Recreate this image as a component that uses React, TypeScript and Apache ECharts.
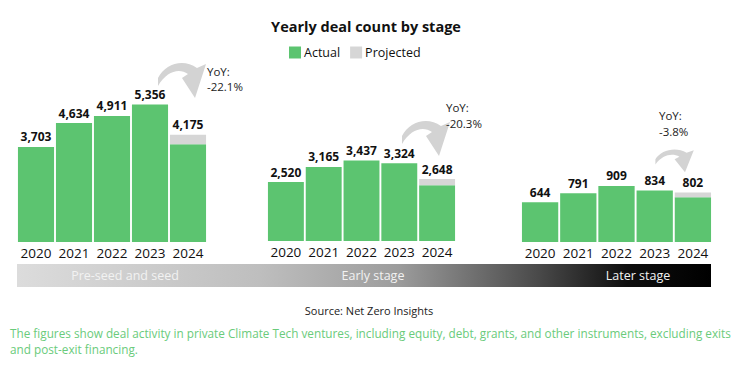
import React, { useEffect, useRef } from "react";
import * as echarts from "echarts";

const years = ["2020", "2021", "2022", "2023", "2024"];
const preSeedActual = [3703, 4634, 4911, 5356, 3810];
const preSeedTotal = [3703, 4634, 4911, 5356, 4175];
const earlyActual = [2520, 3165, 3437, 3324, 2380];
const earlyTotal = [2520, 3165, 3437, 3324, 2648];
const laterActual = [644, 791, 909, 834, 724];
const laterTotal = [644, 791, 909, 834, 802];
const yoyLabels = ["-22.1%", "-20.3%", "-3.8%"];
const stageNames = ["Pre-seed and seed", "Early stage", "Later stage"];

const GREEN = "#5cc470";
const GREY = "#d6d6d6";
const FONT = "'Open Sans', sans-serif";

const ARROW_D =
  "M3 27 L3 19 C10 5 28 -1 42 9 L51 5 L40 39 L27 19 L33 15 C24 9 12 12 3 27 Z";

let registered = false;

export default function App() {
  const ref = useRef<HTMLDivElement>(null);
  useEffect(() => {
    if (!registered) {
      echarts.graphic.registerShape("curvedArrow", echarts.graphic.extendPath(ARROW_D, {}) as any);
      registered = true;
    }
    const chart = echarts.init(ref.current!, null, { renderer: "svg" });
    const groups = [
      { actual: preSeedActual, total: preSeedTotal, left: 17, width: 190, top: 88, bottom: 124, max: 6000 },
      { actual: earlyActual, total: earlyTotal, left: 267, width: 189, top: 147.4, bottom: 125, max: 4000 },
      { actual: laterActual, total: laterTotal, left: 521, width: 191, top: 180.3, bottom: 124, max: 1000 },
    ];
    const grid = groups.map((g) => ({
      left: g.left,
      width: g.width,
      top: g.top,
      bottom: g.bottom,
      containLabel: false,
    }));
    const xAxis = groups.map((_, i) => ({
      type: "category" as const,
      gridIndex: i,
      data: years,
      axisLine: { show: false },
      axisTick: { show: false },
      axisLabel: { interval: 0, color: "#111", fontSize: 13.5, fontFamily: FONT, fontWeight: 500, margin: 4 },
    }));
    const yAxis = groups.map((g, i) => ({
      type: "value" as const,
      gridIndex: i,
      min: 0,
      max: g.max,
      show: false,
      splitLine: { show: false },
    }));
    const series: any[] = [];
    groups.forEach((g, i) => {
      series.push({
        type: "bar",
        name: "Actual",
        xAxisIndex: i,
        yAxisIndex: i,
        stack: "s" + i,
        data: g.actual,
        barCategoryGap: "5%",
        itemStyle: { color: GREEN },
      });
      series.push({
        type: "bar",
        name: "Projected",
        xAxisIndex: i,
        yAxisIndex: i,
        stack: "s" + i,
        data: g.total.map((t, k) => t - g.actual[k]),
        barCategoryGap: "5%",
        itemStyle: { color: GREY },
        label: {
          show: true,
          position: "top",
          distance: 4,
          color: "#111",
          fontSize: 12,
          fontWeight: "bold",
          fontFamily: FONT,
          formatter: (p: any) => g.total[p.dataIndex].toLocaleString("en-US"),
        },
      });
    });

    const arrows = [
      { x: 155, y: 59, sx: 1, sy: 1 },
      { x: 399, y: 117, sx: 1, sy: 1 },
      { x: 653, y: 147, sx: 0.8, sy: 0.65 },
    ];
    const yoyPos = [
      { x: 207, y1: 71, y2: 86 },
      { x: 446, y1: 107, y2: 123 },
      { x: 659, y1: 115, y2: 131 },
    ];
    const stagePos = [125, 373, 638];
    const graphic: any[] = [];
    arrows.forEach((a) => {
      graphic.push({
        type: "curvedArrow",
        x: a.x,
        y: a.y,
        scaleX: a.sx,
        scaleY: a.sy,
        style: { fill: "#d3d3d3" },
      });
    });
    yoyPos.forEach((p, i) => {
      graphic.push({
        type: "text",
        x: p.x,
        y: p.y1,
        style: { text: "YoY:", fill: "#222", fontSize: 11.5, lineHeight: 13, fontFamily: FONT, textVerticalAlign: "middle" },
      });
      graphic.push({
        type: "text",
        x: p.x,
        y: p.y2,
        style: { text: yoyLabels[i], fill: "#222", fontSize: 11.5, lineHeight: 13, fontFamily: FONT, textVerticalAlign: "middle" },
      });
    });
    graphic.push({
      type: "rect",
      shape: { x: 17, y: 264, width: 694, height: 23 },
      style: {
        fill: new echarts.graphic.LinearGradient(0, 0, 1, 0, [
          { offset: 0, color: "#dcdcdc" },
          { offset: 0.35, color: "#bebebe" },
          { offset: 0.55, color: "#9c9c9c" },
          { offset: 0.75, color: "#4a4a4a" },
          { offset: 0.88, color: "#0e0e0e" },
          { offset: 1, color: "#000000" },
        ]),
      },
    });
    stageNames.forEach((s, i) => {
      graphic.push({
        type: "text",
        x: stagePos[i],
        y: 275.5,
        style: {
          text: s,
          fill: "#f2f2f2",
          fontSize: 12.5,
          fontFamily: FONT,
          textAlign: "center",
          textVerticalAlign: "middle",
        },
      });
    });
    graphic.push({
      type: "text",
      x: 366,
      y: 26,
      style: {
        text: "Yearly deal count by stage",
        fill: "#111",
        fontSize: 14.5,
        fontWeight: "bold",
        fontFamily: FONT,
        textAlign: "center",
        textVerticalAlign: "middle",
      },
    });
    graphic.push({
      type: "text",
      x: 369,
      y: 310,
      style: {
        text: "Source: Net Zero Insights",
        fill: "#222",
        fontSize: 11,
        fontFamily: FONT,
        textAlign: "center",
        textVerticalAlign: "middle",
      },
    });
    graphic.push({
      type: "text",
      x: 10,
      y: 333,
      style: {
        text: "The figures show deal activity in private Climate Tech ventures, including equity, debt, grants, and other instruments, excluding exits",
        fill: "#6acb7b",
        fontSize: 11.75,
        fontFamily: FONT,
        textVerticalAlign: "middle",
      },
    });
    graphic.push({
      type: "text",
      x: 10,
      y: 349,
      style: {
        text: "and post-exit financing.",
        fill: "#6acb7b",
        fontSize: 11.75,
        fontFamily: FONT,
        textVerticalAlign: "middle",
      },
    });

    chart.setOption({
      animation: false,
      backgroundColor: "#ffffff",
      legend: {
        data: ["Actual", "Projected"],
        left: 284,
        top: 41,
        icon: "rect",
        itemWidth: 12,
        itemHeight: 12,
        itemGap: 10,
        textStyle: { color: "#111", fontSize: 12.5, fontFamily: FONT, padding: [0, 0, 0, -2] },
      },
      grid,
      xAxis,
      yAxis,
      series,
      graphic,
    });
    return () => chart.dispose();
  }, []);
  return (
    <div
      ref={ref}
      style={{ position: "fixed", left: 0, top: 0, width: 739, height: 366, background: "#fff" }}
    />
  );
}
